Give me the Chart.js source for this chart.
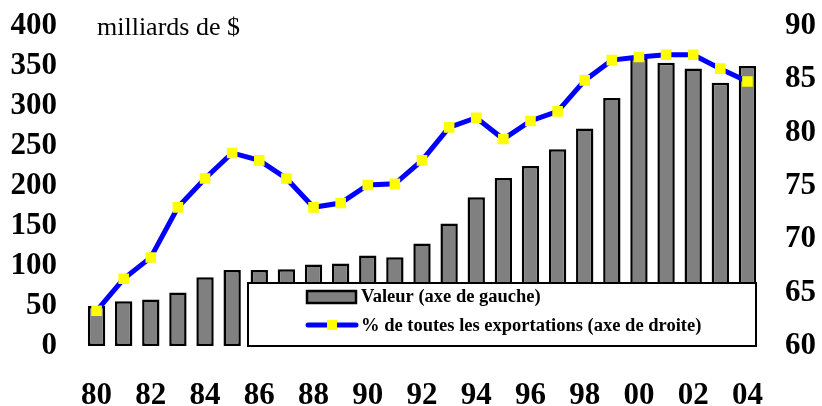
<!DOCTYPE html>
<html>
<head>
<meta charset="utf-8">
<script src="https://cdn.jsdelivr.net/npm/chart.js@4.4.1/dist/chart.umd.min.js"></script>
<style>
  html, body { margin: 0; padding: 0; background: #fff; }
  #wrap { width: 822px; height: 406px; }
</style>
</head>
<body>
<div id="wrap"><canvas id="myChart" width="822" height="406"></canvas></div>
<script>
const years = ['80','81','82','83','84','85','86','87','88','89','90','91','92',
               '93','94','95','96','97','98','99','00','01','02','03','04'];
// milliards de $ (axe de gauche)
const valeur = [50, 56, 58, 67, 86, 95, 95, 96, 102, 103, 113, 111, 128,
                153, 186, 210, 225, 246, 272, 310, 360, 354, 347, 329, 350];
// % de toutes les exportations (axe de droite)
const pctExport = [63.3, 66.3, 68.3, 73.0, 75.7, 78.1, 77.4, 75.7, 73.0, 73.4, 75.1, 75.2, 77.4,
                   80.5, 81.4, 79.4, 81.1, 82.0, 84.9, 86.8, 87.1, 87.3, 87.3, 86.0, 84.8];
const leftTicks = [0, 400, 50];
const rightTicks = [60, 90, 5];
const labelBar = 'Valeur (axe de gauche)';
const labelLine = '% de toutes les exportations (axe de droite)';
const unitText = 'milliards de $';

const serif = 'Liberation Serif, Times New Roman, serif';

const overlay = {
    id: 'overlay',
    afterDraw(chart) {
        const ctx = chart.ctx;
        ctx.save();
        // unit caption
        ctx.fillStyle = '#000';
        ctx.font = 'normal 26px ' + serif;
        ctx.textBaseline = 'alphabetic';
        ctx.textAlign = 'left';
        ctx.fillText(unitText, 97, 35);

        // legend box
        ctx.fillStyle = '#fff';
        ctx.strokeStyle = '#000';
        ctx.lineWidth = 2;
        ctx.fillRect(248, 283, 508, 63);
        ctx.strokeRect(248, 283, 508, 63);

        // bar symbol
        ctx.fillStyle = '#808080';
        ctx.lineWidth = 2.5;
        ctx.fillRect(307, 291, 49, 12);
        ctx.strokeRect(307, 291, 49, 12);

        // line symbol
        ctx.strokeStyle = '#0000ff';
        ctx.lineWidth = 5;
        ctx.lineCap = 'round';
        ctx.beginPath();
        ctx.moveTo(308, 325);
        ctx.lineTo(356, 325);
        ctx.stroke();
        ctx.fillStyle = '#ffff00';
        ctx.fillRect(327, 320, 10, 10);

        ctx.fillStyle = '#000';
        ctx.font = 'bold 18.5px ' + serif;
        ctx.textBaseline = 'middle';
        ctx.fillText(labelBar, 361, 297);
        ctx.fillText(labelLine, 361, 326);
        ctx.restore();
    }
};

// y axes: fixed width, no extra vertical padding from the tick labels
function fitY(width) {
    return scale => {
        scale.width = width;
        scale.paddingTop = 0;
        scale.paddingBottom = 0;
    };
}

const ctx = document.getElementById('myChart');

const config = {
    data: {
        labels: years,
        datasets: [
            {
                type: 'line',
                label: labelLine,
                data: pctExport,
                yAxisID: 'y2',
                order: 1,
                borderColor: '#0000ff',
                borderWidth: 5,
                tension: 0,
                pointStyle: 'rect',
                pointRadius: 7.5,
                pointBackgroundColor: '#ffff00',
                pointBorderColor: '#ffff00',
                pointBorderWidth: 0
            },
            {
                type: 'bar',
                label: labelBar,
                data: valeur,
                yAxisID: 'y',
                order: 2,
                backgroundColor: '#808080',
                borderColor: '#000000',
                borderWidth: 2.5,
                borderSkipped: false,
                barPercentage: 0.64,
                categoryPercentage: 1
            }
        ]
    },
    options: {
        responsive: false,
        animation: false,
        layout: { padding: { top: 26, left: 0, right: 0, bottom: 0 } },
        plugins: {
            legend: { display: false },
            tooltip: { enabled: false }
        },
        scales: {
            x: {
                offset: true,
                grid: { display: false, drawTicks: false },
                border: { display: false },
                afterFit: scale => { scale.height = 60; },
                ticks: {
                    autoSkip: false,
                    maxRotation: 0,
                    padding: 31,
                    color: '#000',
                    font: { family: serif, size: 31, weight: 'bold' },
                    callback: (v, i) => i % 2 === 0 ? years[i] : ''
                }
            },
            y: {
                position: 'left',
                min: leftTicks[0],
                max: leftTicks[1],
                grid: { display: false, drawTicks: false },
                border: { display: false },
                afterFit: fitY(83),
                ticks: {
                    autoSkip: false,
                    stepSize: leftTicks[2],
                    padding: 26,
                    color: '#000',
                    font: { family: serif, size: 31, weight: 'bold' }
                }
            },
            y2: {
                position: 'right',
                min: rightTicks[0],
                max: rightTicks[1],
                grid: { display: false, drawTicks: false },
                border: { display: false },
                afterFit: fitY(61),
                ticks: {
                    autoSkip: false,
                    stepSize: rightTicks[2],
                    padding: 24,
                    color: '#000',
                    font: { family: serif, size: 31, weight: 'bold' }
                }
            }
        }
    },
    plugins: [overlay]
};

const chart = new Chart(ctx, config);
</script>
</body>
</html>
